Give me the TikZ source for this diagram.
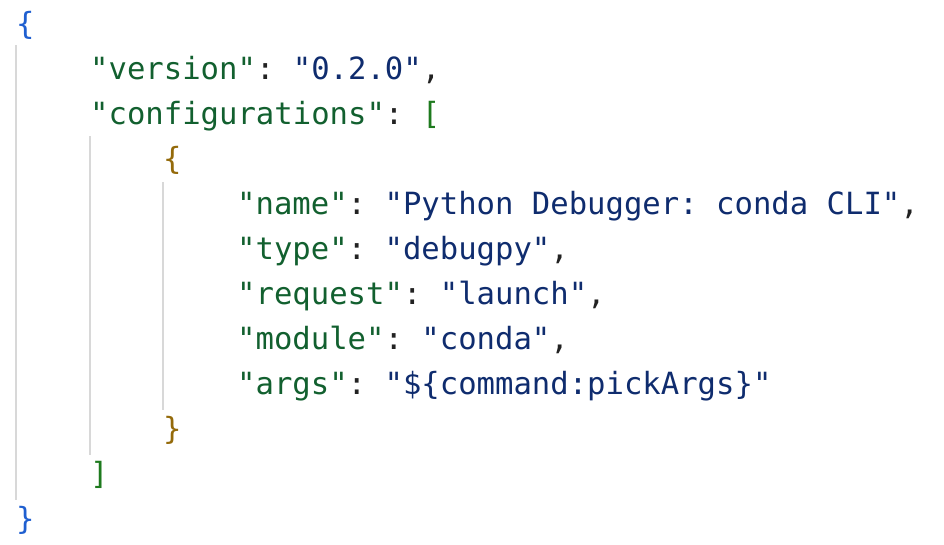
\documentclass[tikz,border=0pt]{standalone}
\usepackage{fontspec}
\setmonofont{DejaVu Sans Mono}
\definecolor{kc}{HTML}{12602F}
\definecolor{sc}{HTML}{0F2C6E}
\definecolor{pc}{HTML}{222222}
\definecolor{b1}{HTML}{1F5FD0}
\definecolor{b2}{HTML}{1E7A1E}
\definecolor{b3}{HTML}{946A0A}
\definecolor{gl}{HTML}{D8D8D8}
\begin{document}
\begin{tikzpicture}[x=1pt,y=-1pt,
  ln/.style={anchor=base west,inner sep=0pt,font=\ttfamily\fontsize{30.6}{40}\selectfont,text=pc},
  guide/.style={gl,line width=1.2pt}]
\useasboundingbox (0,0) rectangle (944,544);
\newcommand{\K}[1]{\textcolor{kc}{"#1"}}
\newcommand{\Sv}[1]{\textcolor{sc}{"#1"}}
\coordinate (g1a) at (16,45); \coordinate (g1b) at (16,500);
\coordinate (g2a) at (90,136); \coordinate (g2b) at (90,455);
\coordinate (g3a) at (163,182); \coordinate (g3b) at (163,410);
\draw[guide] (g1a) -- (g1b);
\draw[guide] (g2a) -- (g2b);
\draw[guide] (g3a) -- (g3b);
\node[ln] (l1) at (16,34) {\textcolor{b1}{\{}};
\node[ln] (l2) at (90,79) {\K{version}: \Sv{0.2.0},};
\node[ln] (l3) at (90,124) {\K{configurations}: \textcolor{b2}{[}};
\node[ln] (l4) at (163,169) {\textcolor{b3}{\{}};
\node[ln] (l5) at (237,214) {\K{name}: \Sv{Python Debugger: conda CLI},};
\node[ln] (l6) at (237,259) {\K{type}: \Sv{debugpy},};
\node[ln] (l7) at (237,304) {\K{request}: \Sv{launch},};
\node[ln] (l8) at (237,349) {\K{module}: \Sv{conda},};
\node[ln] (l9) at (237,394) {\K{args}: \Sv{\$\{command:pickArgs\}}};
\node[ln] (l10) at (163,439) {\textcolor{b3}{\}}};
\node[ln] (l11) at (90,484) {\textcolor{b2}{]}};
\node[ln] (l12) at (16,529) {\textcolor{b1}{\}}};
\end{tikzpicture}
\end{document}
